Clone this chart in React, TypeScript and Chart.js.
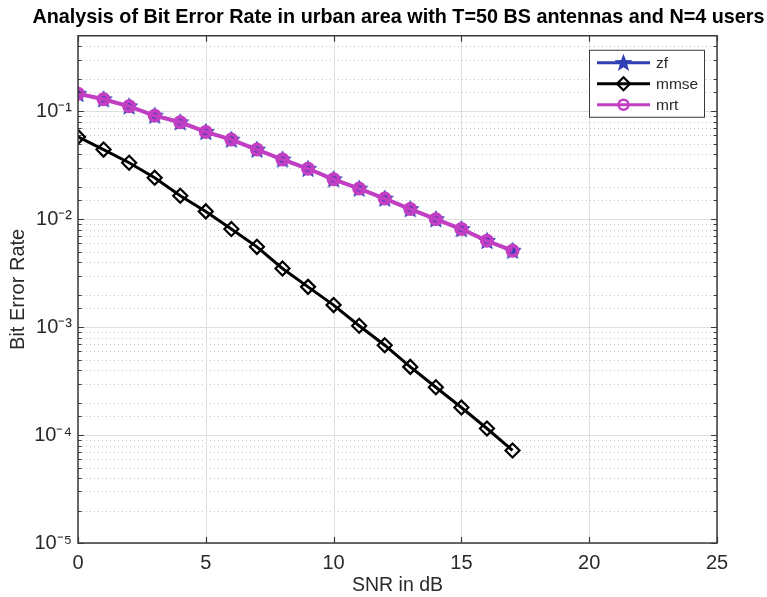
import React, { useEffect, useRef } from 'react';
import { Chart, registerables } from 'chart.js';

Chart.register(...registerables);

// ---- data ----
const snrDb = [0, 1, 2, 3, 4, 5, 6, 7, 8, 9, 10, 11, 12, 13, 14, 15, 16, 17];
const zfBer = [0.145, 0.129, 0.111, 0.091, 0.079, 0.0643, 0.0546, 0.0441, 0.0357, 0.0293, 0.0234, 0.0192, 0.0155, 0.0124, 0.0100, 0.0081, 0.0063, 0.0051];
const mmseBer = [0.0578, 0.0441, 0.0333, 0.0242, 0.0165, 0.0118, 0.0081, 0.00554, 0.00349, 0.00236, 0.0016, 0.00103, 0.00068, 0.000428, 0.000277, 0.00018, 0.000115, 0.000072];
const mrtBer = [0.145, 0.129, 0.111, 0.091, 0.079, 0.0643, 0.0546, 0.0441, 0.0357, 0.0293, 0.0234, 0.0192, 0.0155, 0.0124, 0.0100, 0.0081, 0.0063, 0.0051];
const xTickValues = [0, 5, 10, 15, 20, 25];
const yMin = 1e-5;
const yMax = 0.5;
const seriesNames = ['zf', 'mmse', 'mrt'];
const titleText = 'Analysis of Bit Error Rate in urban area with T=50 BS antennas and N=4 users';
const xTitle = 'SNR in dB';
const yTitle = 'Bit Error Rate';

const BLUE = '#2f3fb4';
const BLACK = '#000000';
const MAGENTA = '#c23fc3';
const FONT = '"Liberation Sans", Arial, sans-serif';
const TEXT = '#2a2a2a';

const SUP: Record<string, string> = { '-': '\u207B', '0': '\u2070', '1': '\u00B9', '2': '\u00B2', '3': '\u00B3', '4': '\u2074', '5': '\u2075', '6': '\u2076', '7': '\u2077', '8': '\u2078', '9': '\u2079' };
const sup = (n: number) => String(n).split('').map((c) => SUP[c] || c).join('');

function starPath(ctx: CanvasRenderingContext2D, cx: number, cy: number, R: number, r: number) {
  ctx.beginPath();
  for (let i = 0; i < 10; i++) {
    const ang = -Math.PI / 2 + (i * Math.PI) / 5;
    const rad = i % 2 === 0 ? R : r;
    const px = cx + Math.cos(ang) * rad;
    const py = cy + Math.sin(ang) * rad;
    if (i === 0) ctx.moveTo(px, py);
    else ctx.lineTo(px, py);
  }
  ctx.closePath();
}

function makeStar(): HTMLCanvasElement {
  const c = document.createElement('canvas');
  c.width = 20;
  c.height = 20;
  const ctx = c.getContext('2d')!;
  starPath(ctx, 10, 10.5, 8.8, 3.7);
  ctx.fillStyle = BLUE;
  ctx.fill();
  ctx.lineWidth = 1;
  ctx.strokeStyle = BLUE;
  ctx.stroke();
  return c;
}

function diamondPath(ctx: CanvasRenderingContext2D, cx: number, cy: number, r: number) {
  ctx.beginPath();
  ctx.moveTo(cx, cy - r);
  ctx.lineTo(cx + r, cy);
  ctx.lineTo(cx, cy + r);
  ctx.lineTo(cx - r, cy);
  ctx.closePath();
}

const isDecade = (v: number) => {
  const e = Math.log10(v);
  return Math.abs(e - Math.round(e)) < 1e-6;
};

const axesPlugin = {
  id: 'matlabAxes',
  afterLayout(chart: any) {
    const t = chart.titleBlock;
    if (t) {
      t.left = 30;
      t.right = 767;
      t.width = t.right - t.left;
    }
  },
  beforeDatasetsDraw(chart: any) {
    const { ctx, chartArea: a, scales } = chart;
    const ys = scales.y;
    const xs = scales.x;
    ctx.save();
    ys.ticks.forEach((t: any) => {
      if (isDecade(t.value) || t.value >= yMax) return;
      const py = Math.round(ys.getPixelForValue(t.value)) + 0.5;
      ctx.strokeStyle = '#c4c4c4';
      ctx.lineWidth = 1;
      ctx.setLineDash([1, 3]);
      ctx.beginPath();
      ctx.moveTo(a.left, py);
      ctx.lineTo(a.right, py);
      ctx.stroke();
    });
    ctx.setLineDash([]);
    ys.ticks.forEach((t: any) => {
      if (!isDecade(t.value)) return;
      const py = Math.round(ys.getPixelForValue(t.value)) + 0.5;
      ctx.strokeStyle = '#dedede';
      ctx.lineWidth = 1;
      ctx.beginPath();
      ctx.moveTo(a.left, py);
      ctx.lineTo(a.right, py);
      ctx.stroke();
    });
    xs.ticks.forEach((t: any) => {
      const px = Math.round(xs.getPixelForValue(t.value)) + 0.5;
      ctx.strokeStyle = '#dedede';
      ctx.lineWidth = 1;
      ctx.beginPath();
      ctx.moveTo(px, a.top);
      ctx.lineTo(px, a.bottom);
      ctx.stroke();
    });
    ctx.restore();
  },
  afterDatasetsDraw(chart: any) {
    const { ctx, chartArea: a, scales } = chart;
    const ys = scales.y;
    const xs = scales.x;
    ctx.save();
    ctx.strokeStyle = '#3a3a3a';
    ctx.lineWidth = 1.2;
    ys.ticks.forEach((t: any) => {
      if (t.value >= yMax) return;
      const py = Math.round(ys.getPixelForValue(t.value)) + 0.5;
      const len = isDecade(t.value) ? 6 : 3.5;
      ctx.beginPath();
      ctx.moveTo(a.left, py);
      ctx.lineTo(a.left + len, py);
      ctx.moveTo(a.right, py);
      ctx.lineTo(a.right - len, py);
      ctx.stroke();
    });
    xs.ticks.forEach((t: any) => {
      const px = Math.round(xs.getPixelForValue(t.value)) + 0.5;
      ctx.beginPath();
      ctx.moveTo(px, a.bottom);
      ctx.lineTo(px, a.bottom - 6);
      ctx.moveTo(px, a.top);
      ctx.lineTo(px, a.top + 6);
      ctx.stroke();
    });
    ctx.lineWidth = 1.5;
    ctx.strokeStyle = '#3a3a3a';
    ctx.strokeRect(a.left, a.top, a.right - a.left, a.bottom - a.top);
    ctx.restore();
  },
  afterDraw(chart: any) {
    const { ctx, chartArea: a } = chart;
    ctx.save();
    const bw = 115;
    const bh = 67;
    const bx = a.right - 128;
    const by = a.top + 14;
    ctx.fillStyle = '#ffffff';
    ctx.fillRect(bx, by, bw, bh);
    ctx.strokeStyle = '#3a3a3a';
    ctx.lineWidth = 1;
    ctx.strokeRect(bx + 0.5, by + 0.5, bw, bh);
    const rows = [by + 13, by + 34, by + 55];
    const x0 = bx + 8;
    const x1 = bx + 61;
    const xm = (x0 + x1) / 2;
    ctx.font = `15.5px ${FONT}`;
    ctx.textBaseline = 'middle';
    ctx.textAlign = 'left';
    ctx.strokeStyle = BLUE;
    ctx.lineWidth = 3;
    ctx.beginPath();
    ctx.moveTo(x0, rows[0]);
    ctx.lineTo(x1, rows[0]);
    ctx.stroke();
    starPath(ctx, xm, rows[0] + 0.5, 9.5, 4);
    ctx.fillStyle = BLUE;
    ctx.fill();
    ctx.strokeStyle = BLACK;
    ctx.lineWidth = 3;
    ctx.beginPath();
    ctx.moveTo(x0, rows[1]);
    ctx.lineTo(x1, rows[1]);
    ctx.stroke();
    ctx.lineWidth = 2.2;
    diamondPath(ctx, xm, rows[1], 6.5);
    ctx.stroke();
    ctx.strokeStyle = MAGENTA;
    ctx.lineWidth = 3;
    ctx.beginPath();
    ctx.moveTo(x0, rows[2]);
    ctx.lineTo(x1, rows[2]);
    ctx.stroke();
    ctx.lineWidth = 2.5;
    ctx.beginPath();
    ctx.arc(xm, rows[2], 5, 0, Math.PI * 2);
    ctx.stroke();
    ctx.fillStyle = TEXT;
    seriesNames.forEach((n, i) => ctx.fillText(n, x1 + 6, rows[i] + 1));
    ctx.restore();
  },
};

export default function App() {
  const ref = useRef<HTMLCanvasElement | null>(null);
  useEffect(() => {
    if (!ref.current) return;
    const star = makeStar();
    const toPts = (ys: number[]) => snrDb.map((x, i) => ({ x, y: ys[i] }));
    const chart = new Chart(ref.current, {
      type: 'line',
      data: {
        datasets: [
          {
            label: seriesNames[0],
            data: toPts(zfBer),
            borderColor: BLUE,
            backgroundColor: BLUE,
            borderWidth: 3,
            pointStyle: star as any,
            pointRadius: 9,
            order: 3,
          },
          {
            label: seriesNames[1],
            data: toPts(mmseBer),
            borderColor: BLACK,
            backgroundColor: 'rgba(0,0,0,0)',
            borderWidth: 3,
            pointStyle: 'rectRot',
            pointRadius: 7,
            pointBorderWidth: 2.2,
            order: 2,
          },
          {
            label: seriesNames[2],
            data: toPts(mrtBer),
            borderColor: MAGENTA,
            backgroundColor: 'rgba(0,0,0,0)',
            borderWidth: 4,
            pointStyle: 'circle',
            pointRadius: 5,
            pointBorderWidth: 4,
            order: 1,
          },
        ],
      },
      options: {
        responsive: false,
        animation: false,
        events: [],
        layout: { padding: { left: 6, right: 50, top: 0, bottom: 0 } },
        plugins: {
          legend: { display: false },
          tooltip: { enabled: false },
          title: {
            display: true,
            fullSize: false,
            text: titleText,
            color: '#000000',
            font: { family: FONT, size: 19.8, weight: 'bold' },
            padding: { top: 6, bottom: 6 },
          },
        },
        scales: {
          x: {
            type: 'linear',
            min: 0,
            max: 25,
            afterBuildTicks: (s: any) => {
              s.ticks = xTickValues.map((v) => ({ value: v }));
            },
            grid: { display: false, drawTicks: false },
            border: { display: false },
            ticks: { color: TEXT, font: { family: FONT, size: 20 }, padding: 8 },
            title: {
              display: true,
              text: xTitle,
              color: TEXT,
              font: { family: FONT, size: 19.5 },
              padding: { top: 0, bottom: 0 },
            },
            afterFit: (s: any) => {
              s.height = 54;
            },
          },
          y: {
            type: 'logarithmic',
            min: yMin,
            max: yMax,
            grid: { display: false, drawTicks: false },
            border: { display: false },
            ticks: {
              autoSkip: false,
              color: TEXT,
              font: { family: FONT, size: 20 },
              padding: 6,
              callback: (v: any) => {
                const n = Number(v);
                if (!isDecade(n)) return '';
                return '10' + sup(Math.round(Math.log10(n)));
              },
            },
            title: {
              display: true,
              text: yTitle,
              color: TEXT,
              font: { family: FONT, size: 20 },
              padding: { top: 0, bottom: 0 },
            },
            afterFit: (s: any) => {
              s.width = 72;
            },
          },
        },
      },
      plugins: [axesPlugin],
    });
    return () => chart.destroy();
  }, []);
  return (
    <div style={{ position: 'fixed', left: 0, top: 0, width: 767, height: 597, background: '#ffffff' }}>
      <canvas ref={ref} width={767} height={597} style={{ display: 'block' }} />
    </div>
  );
}
